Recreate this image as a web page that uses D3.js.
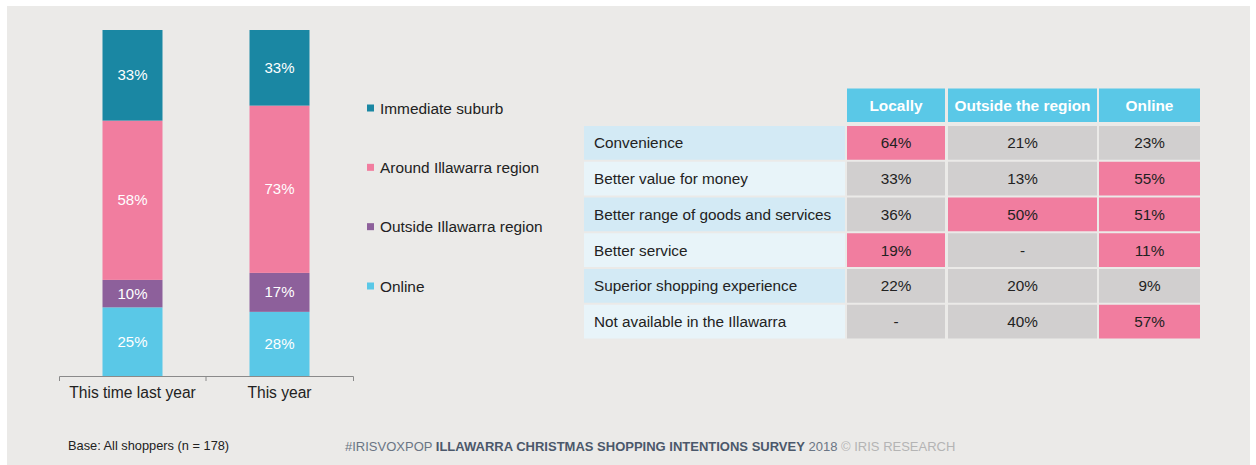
<!DOCTYPE html>
<html>
<head>
<meta charset="utf-8">
<script src="https://cdn.jsdelivr.net/npm/d3@7"></script>
<style>
  html, body { margin: 0; padding: 0; background: #ffffff; }
  svg { display: block; font-family: "Liberation Sans", Arial, sans-serif; }
</style>
</head>
<body>
<svg id="chart" width="1256" height="465"></svg>
<script>
// ---- Data ----
const periods = ["This time last year", "This year"];
const destinations = ["Online", "Outside Illawarra region", "Around Illawarra region", "Immediate suburb"];
const onlineShare = [25, 28];
const outsideShare = [10, 17];
const aroundShare = [58, 73];
const suburbShare = [33, 33];
const legendOrder = ["Immediate suburb", "Around Illawarra region", "Outside Illawarra region", "Online"];

const tableColumns = ["Locally", "Outside the region", "Online"];
const reasons = ["Convenience", "Better value for money", "Better range of goods and services",
                 "Better service", "Superior shopping experience", "Not available in the Illawarra"];
const locallyValues = [64, 33, 36, 19, 22, null];
const outsideValues = [21, 13, 50, null, 20, 40];
const onlineValues = [23, 55, 51, 11, 9, 57];
const locallyHighlight = [true, false, false, true, false, false];
const outsideHighlight = [false, false, true, false, false, false];
const onlineHighlight = [false, true, true, true, false, true];

const baseNote = "Base: All shoppers (n = 178)";

// ---- Colours ----
const colour = d3.scaleOrdinal()
  .domain(destinations)
  .range(["#5ac8e7", "#8d609b", "#f17d9f", "#1a87a3"]);

const svg = d3.select("#chart");

// panel background
svg.append("rect").attr("x", 7).attr("y", 6).attr("width", 1243).attr("height", 459).attr("fill", "#ebeae8");

// ---- Stacked 100% bars ----
const rows = periods.map((p, i) => ({
  period: p,
  "Online": onlineShare[i],
  "Outside Illawarra region": outsideShare[i],
  "Around Illawarra region": aroundShare[i],
  "Immediate suburb": suburbShare[i]
}));
const stacked = d3.stack().keys(destinations).offset(d3.stackOffsetExpand)(rows);

const x = d3.scaleBand().domain(periods).range([59, 353]).padding(0);
const y = d3.scaleLinear().domain([0, 1]).range([376, 30]);
const barW = 60;

const barG = svg.append("g");
stacked.forEach(layer => {
  const g = barG.append("g").attr("fill", colour(layer.key));
  g.selectAll("rect").data(layer).join("rect")
    .attr("x", d => x(d.data.period) + x.bandwidth() / 2 - barW / 2)
    .attr("width", barW)
    .attr("y", d => y(d[1]))
    .attr("height", d => y(d[0]) - y(d[1]));
  barG.append("g").selectAll("text").data(layer).join("text")
    .attr("x", d => x(d.data.period) + x.bandwidth() / 2)
    .attr("y", d => (y(d[0]) + y(d[1])) / 2 + 5)
    .attr("text-anchor", "middle")
    .attr("fill", "#ffffff")
    .attr("font-size", 15)
    .text(d => d.data[layer.key] + "%");
});

// category axis
const axisG = svg.append("g").attr("transform", "translate(0,376)")
  .call(d3.axisBottom(x).tickSize(0).tickSizeOuter(5).tickPadding(11));
axisG.select(".domain").attr("stroke", "#8a8a8a");
axisG.selectAll("text").attr("font-family", "Liberation Sans, Arial, sans-serif")
  .attr("font-size", 15.6).attr("fill", "#222222");
// separators between categories
axisG.selectAll(".sep").data(periods.slice(1)).join("line")
  .attr("x1", d => x(d)).attr("x2", d => x(d)).attr("y1", 0).attr("y2", 5)
  .attr("stroke", "#8a8a8a");

// ---- Legend ----
const legendY = d3.scalePoint().domain(legendOrder).range([108, 286]);
const lg = svg.append("g").selectAll("g").data(legendOrder).join("g")
  .attr("transform", d => `translate(367,${legendY(d)})`);
lg.append("rect").attr("x", 0).attr("y", -3.5).attr("width", 7).attr("height", 7)
  .attr("fill", d => colour(d));
lg.append("text").attr("x", 13).attr("y", 5.5).attr("font-size", 15.4).attr("fill", "#222222")
  .text(d => d);

// ---- Table ----
const colX = d3.scaleOrdinal().domain(tableColumns).range([847, 948, 1099]);
const colW = d3.scaleOrdinal().domain(tableColumns).range([98, 149, 101]);
const rowY = d3.scaleBand().domain(reasons).range([126, 338.5]).paddingInner(0.056).paddingOuter(0);
const valueSets = [locallyValues, outsideValues, onlineValues];
const highlightSets = [locallyHighlight, outsideHighlight, onlineHighlight];

const tbl = svg.append("g");
// header
tbl.selectAll(".hdr").data(tableColumns).join("rect")
  .attr("x", d => colX(d)).attr("y", 88.5).attr("width", d => colW(d)).attr("height", 33.5)
  .attr("fill", "#5ac8e7");
tbl.selectAll(".hdrText").data(tableColumns).join("text")
  .attr("x", d => colX(d) + colW(d) / 2).attr("y", 110.5)
  .attr("text-anchor", "middle").attr("font-size", 15.4).attr("font-weight", "bold")
  .attr("fill", "#ffffff").text(d => d);

// row labels and value cells
reasons.forEach((r, i) => {
  tbl.append("rect").attr("x", 584).attr("y", rowY(r)).attr("width", 261).attr("height", rowY.bandwidth())
    .attr("fill", i % 2 === 0 ? "#d3eaf5" : "#e8f4f9");
  tbl.append("text").attr("x", 594).attr("y", rowY(r) + rowY.bandwidth() / 2 + 5.5)
    .attr("font-size", 15.3).attr("fill", "#222222").text(r);
  tableColumns.forEach((c, j) => {
    const v = valueSets[j][i];
    tbl.append("rect").attr("x", colX(c)).attr("y", rowY(r)).attr("width", colW(c)).attr("height", rowY.bandwidth())
      .attr("fill", highlightSets[j][i] ? "#f17d9f" : "#d1cfcf");
    tbl.append("text").attr("x", colX(c) + colW(c) / 2).attr("y", rowY(r) + rowY.bandwidth() / 2 + 5.5)
      .attr("text-anchor", "middle").attr("font-size", 15.3).attr("fill", "#222222")
      .text(v === null ? "-" : v + "%");
  });
});

// ---- Footer ----
svg.append("text").attr("x", 68).attr("y", 450).attr("font-size", 12.8).attr("fill", "#222222").text(baseNote);
const foot = svg.append("text").attr("x", 345).attr("y", 451).attr("font-size", 13);
foot.append("tspan").attr("fill", "#6a7584").text("#IRISVOXPOP ");
foot.append("tspan").attr("fill", "#4b586b").attr("font-weight", "bold").text("ILLAWARRA CHRISTMAS SHOPPING INTENTIONS SURVEY");
foot.append("tspan").attr("fill", "#6a7584").text(" 2018 ");
foot.append("tspan").attr("fill", "#b4b4b4").text("© IRIS RESEARCH");
</script>
</body>
</html>
